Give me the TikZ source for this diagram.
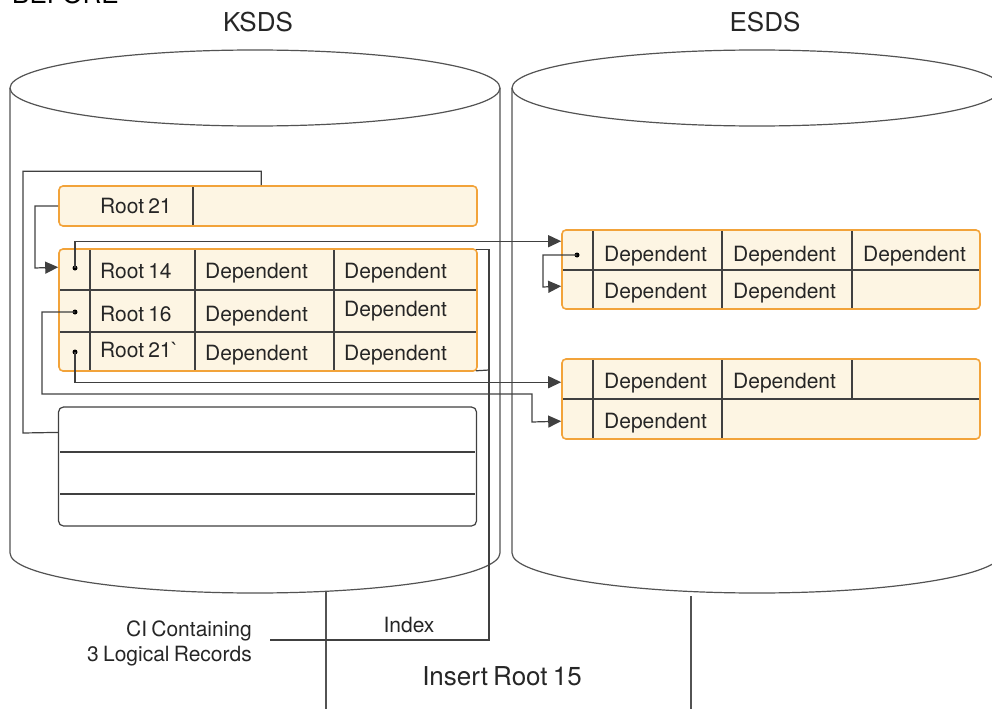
\documentclass[tikz,border=0pt]{standalone}
\usepackage{fontspec}
\setmainfont{TeX Gyre Heros}
\usetikzlibrary{arrows.meta,positioning,calc}
\definecolor{cibdr}{HTML}{F2A33A}
\definecolor{cifill}{HTML}{FDF5E3}
\definecolor{wirecol}{HTML}{404040}
\newcommand{\cellfont}{\fontsize{21}{25}\selectfont\spaceskip=0.2em plus 0.1em}
\newcommand{\headfont}{\fontsize{26}{31}\selectfont\spaceskip=0.2em plus 0.1em}
\begin{document}
\begin{tikzpicture}[x=1pt,y=-1pt,
cibox/.style={draw=cibdr,fill=cifill,line width=1.6pt,rounded corners=4pt,inner sep=0pt},
empbox/.style={draw=wirecol,fill=white,line width=1.2pt,rounded corners=5pt,inner sep=0pt},
cell/.style={anchor=base west,inner sep=0pt,font=\cellfont,text=black!85},
note/.style={inner sep=0pt,font=\cellfont,text=black!85},
divline/.style={draw=wirecol,line width=1.1pt},
wire/.style={draw=wirecol,line width=1.2pt},
arrow/.style={wire,-{Triangle[length=13pt,width=12pt]}},
ptr/.style={circle,fill=black,inner sep=0pt,minimum size=5pt},
disk/.style={draw=wirecol!90,line width=1.2pt}]
\useasboundingbox (0,0) rectangle (992,709);
\draw[disk] (10,88) -- (10,553) arc[start angle=180,end angle=0,x radius=245,y radius=40] -- (500,88);
\draw[disk] (255,88) ellipse[x radius=245,y radius=38];
\draw[disk] (512,88) -- (512,553) arc[start angle=180,end angle=0,x radius=245,y radius=40] -- (1002,88);
\draw[disk] (757,88) ellipse[x radius=245,y radius=38];
\draw[disk] (326,591) -- (326,709);
\draw[disk] (691,596) -- (691,709);
\node[font=\headfont,anchor=base west,inner sep=0pt] (before) at (12,4) {BEFORE};
\node[font=\headfont,text=black!85] (ksds) at (258,22) {KSDS};
\node[font=\headfont,text=black!85] (esds) at (765,22) {ESDS};
\node[cibox,minimum width=418,minimum height=40] (r21) at (268,206) {};
\node[cibox,minimum width=418,minimum height=122] (ci) at (268,310) {};
\node[empbox,minimum width=418,minimum height=119] (free) at (267.5,466.5) {};
\node[cibox,minimum width=418,minimum height=79] (esA) at (771,269.5) {};
\node[cibox,minimum width=418,minimum height=80] (esB) at (771,399) {};
\draw[divline] (193,187) -- (193,225);
\draw[divline] (60,290) -- (476,290) (60,332) -- (476,332);
\foreach \x in {90,195,334} \draw[divline] (\x,250) -- (\x,370);
\draw[divline] (60,452) -- (475,452) (60,494) -- (475,494);
\draw[divline] (563,270) -- (979,270);
\foreach \x in {593,722,852} \draw[divline] (\x,231) -- (\x,308);
\draw[divline] (563,399) -- (979,399);
\foreach \x in {593,722} \draw[divline] (\x,360) -- (\x,438);
\draw[divline] (852,360) -- (852,399);
\node[cell] at (100,213) {Root 21};
\node[cell] at (100,278) {Root 14};
\node[cell] at (100,321) {Root 16};
\node[cell] at (100,357) {Root 21\textasciigrave};
\node[cell] at (205,278) {Dependent};
\node[cell] at (344,278) {Dependent};
\node[cell] at (205,321) {Dependent};
\node[cell] at (344,316) {Dependent};
\node[cell] at (205,360) {Dependent};
\node[cell] at (344,360) {Dependent};
\node[cell] at (604,261) {Dependent};
\node[cell] at (733,261) {Dependent};
\node[cell] at (863,261) {Dependent};
\node[cell] at (604,298) {Dependent};
\node[cell] at (733,298) {Dependent};
\node[cell] at (604,388) {Dependent};
\node[cell] at (733,388) {Dependent};
\node[cell] at (604,428) {Dependent};
\node[note,anchor=base east] (citext) at (252,636) {CI Containing};
\node[note,anchor=base east] (citext2) at (252,661) {3 Logical Records};
\node[note,anchor=base] (idx) at (409,632) {Index};
\node[font=\headfont,text=black!85,anchor=base,inner sep=0pt] (ins) at (502,685) {Insert Root 15};
\node[ptr] (d14) at (75,268) {};
\node[ptr] (d16) at (75,312) {};
\node[ptr] (d21) at (75,352) {};
\node[ptr] (dA) at (577,255) {};
\coordinate (r21top) at ($(r21.north west)+(203,0)$);
\coordinate (freein) at ($(free.north west)+(0,26)$);
\coordinate (ciin) at ($(ci.north west)+(0,19)$);
\coordinate (esAin1) at ($(esA.north west)+(0,12)$);
\coordinate (esAin2) at ($(esA.north west)+(0,57)$);
\coordinate (esBin1) at ($(esB.north west)+(0,24)$);
\coordinate (esBin2) at ($(esB.north west)+(0,63)$);
\coordinate (cinote) at (270,640);
\draw[wire] (r21top) -- ++(0,-14) -| (23,433) -- (freein);
\draw[arrow] (r21.west) -| (35,268) -- (ciin);
\draw[arrow] (d14.center) |- (esAin1);
\draw[arrow] (dA.center) -| (543,287) -- (esAin2);
\draw[arrow] (d16.center) -| (42,394) -| (532,422) -- (esBin2);
\draw[arrow] (d21.center) |- (esBin1);
\draw[wire] ($(ci.north east)+(-2,1)$) -| (489,640) -- (cinote);
\draw[wire] ($(ci.south east)+(-2,-1)$) -- (489,370);
\end{tikzpicture}
\end{document}
